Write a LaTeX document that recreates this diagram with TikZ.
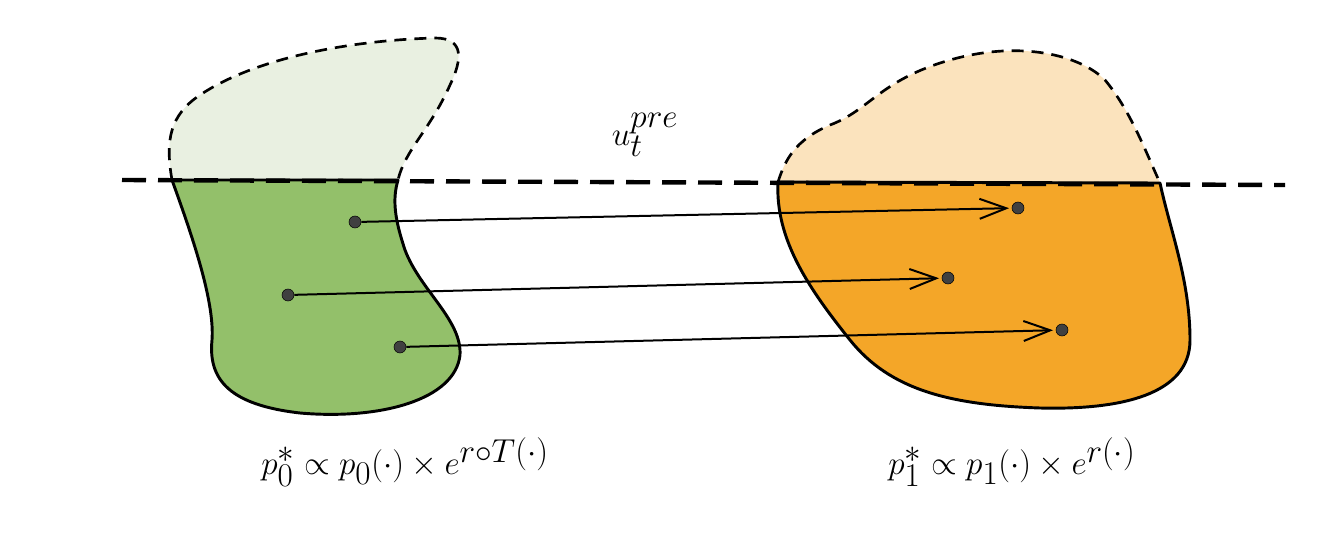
\documentclass[tikz,border=0pt]{standalone}
\usetikzlibrary{arrows.meta}
\definecolor{lgreen}{HTML}{E9F0E1}
\definecolor{dgreen}{HTML}{93C06A}
\definecolor{lorange}{HTML}{FBE3BD}
\definecolor{dorange}{HTML}{F4A628}
\tikzset{
  outline/.style={line width=2.2pt, line join=round},
  dashout/.style={line width=2pt, dash pattern=on 9pt off 6pt},
  arr/.style={line width=1.5pt, -{Straight Barb[length=20pt,width=15pt,line width=1.5pt]}, shorten >=2pt},
  dot/.style={circle, fill=black!75, draw=black, inner sep=0pt, minimum size=9pt},
  lbl/.style={font=\fontsize{44}{50}\selectfont}
}
\begin{document}
\begin{tikzpicture}[x=0.75pt,y=-0.75pt]
\useasboundingbox (0,0) rectangle (1344,545);
% green top
\fill[lgreen] (172,180) .. controls (165,140) and (170,115) .. (200,95) .. controls (260,55) and (360,40) .. (435,38) .. controls (465,38) and (462,60) .. (450,85) .. controls (430,130) and (405,150) .. (398,180) -- cycle;
\draw[dashout] (172,180) .. controls (165,140) and (170,115) .. (200,95) .. controls (260,55) and (360,40) .. (435,38) .. controls (465,38) and (462,60) .. (450,85) .. controls (430,130) and (405,150) .. (398,180);
% green bottom
\draw[outline, fill=dgreen] (172,180) .. controls (190,230) and (215,300) .. (212,340) .. controls (208,380) and (230,405) .. (300,413) .. controls (380,420) and (455,400) .. (460,355) .. controls (462,320) and (420,290) .. (405,250) .. controls (395,220) and (392,200) .. (398,180) -- cycle;
% orange top
\fill[lorange] (778,182) .. controls (785,160) and (795,140) .. (830,125) .. controls (870,110) and (880,80) .. (950,60) .. controls (1020,40) and (1080,55) .. (1105,80) .. controls (1130,110) and (1145,150) .. (1160,183) -- cycle;
\draw[dashout] (778,182) .. controls (785,160) and (795,140) .. (830,125) .. controls (870,110) and (880,80) .. (950,60) .. controls (1020,40) and (1080,55) .. (1105,80) .. controls (1130,110) and (1145,150) .. (1160,183);
% orange bottom
\draw[outline, fill=dorange] (778,182) .. controls (775,240) and (810,290) .. (850,340) .. controls (890,390) and (950,405) .. (1040,408) .. controls (1120,410) and (1190,395) .. (1190,340) .. controls (1190,280) and (1170,230) .. (1160,183) -- cycle;
% threshold line
\coordinate (l0) at (122,180);
\coordinate (l1) at (1285,185);
\draw[line width=3.3pt, dash pattern=on 18pt off 9pt] (l0) -- (l1);
\node[lbl] (u) at (645,135) {$u_t^{pre}$};
% dots and arrows
\node[dot] (a0) at (355,222) {};
\node[dot] (a1) at (1018,208) {};
\node[dot] (b0) at (288,295) {};
\node[dot] (b1) at (948,278) {};
\node[dot] (c0) at (400,347) {};
\node[dot] (c1) at (1062,330) {};
\draw[arr] (a0) -- (a1);
\draw[arr] (b0) -- (b1);
\draw[arr] (c0) -- (c1);
% labels
\node[lbl] (L0) at (405,462) {$p_0^* \propto p_0(\cdot)\times e^{r\circ T(\cdot)}$};
\node[lbl] (L1) at (1012,462) {$p_1^* \propto p_1(\cdot)\times e^{r(\cdot)}$};
\end{tikzpicture}
\end{document}
